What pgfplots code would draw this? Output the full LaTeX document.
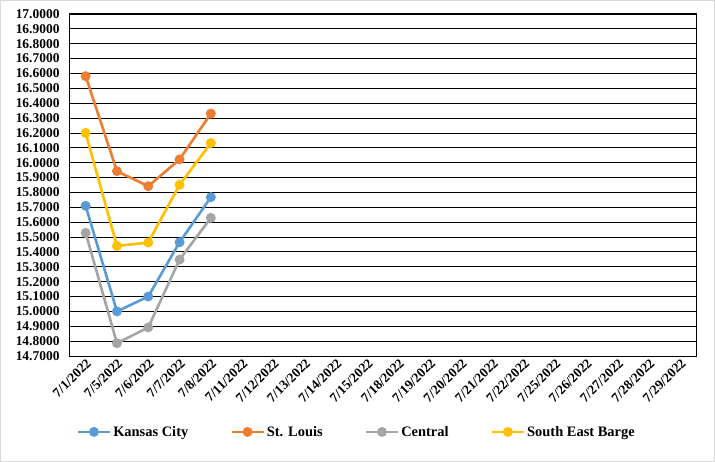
\documentclass[border=0pt]{standalone}
\usepackage{fontspec}
\setmainfont{Liberation Serif}
\usepackage{pgfplots}
\pgfplotsset{compat=1.18}
\definecolor{kc}{HTML}{5B9BD5}
\definecolor{stl}{HTML}{ED7D31}
\definecolor{cen}{HTML}{A5A5A5}
\definecolor{seb}{HTML}{FFC000}
\definecolor{frame}{HTML}{D9D9D9}
\begin{document}
\begin{tikzpicture}
\begin{axis}[
  scale only axis,
  width=626bp, height=342bp,
  xmin=-0.5, xmax=19.5,
  ymin=14.7, ymax=17.0,
  ytick={14.7,14.8,...,17.05},
  xtick={0,...,19},
  xticklabels={7/1/2022,7/5/2022,7/6/2022,7/7/2022,7/8/2022,7/11/2022,7/12/2022,7/13/2022,7/14/2022,7/15/2022,7/18/2022,7/19/2022,7/20/2022,7/21/2022,7/22/2022,7/25/2022,7/26/2022,7/27/2022,7/28/2022,7/29/2022},
  major tick length=0pt,
  ymajorgrids,
  major grid style={black, line width=0.9bp},
  axis line style={black, line width=1bp},
  /pgf/number format/assume math mode=true,
  /pgf/number format/fixed,
  /pgf/number format/precision=4,
  /pgf/number format/zerofill,
  /pgf/number format/1000 sep={},
  ticklabel style={font=\fontsize{13.5}{14}\selectfont\bfseries},
  yticklabel style={xshift=-7bp},
  xticklabel style={rotate=45, anchor=east, xshift=2bp, yshift=-6bp},
  every axis plot/.append style={line width=2.6bp, mark=*, mark size=3.6bp},
  legend columns=4,
  legend style={at={(0.458,-0.222)}, anchor=center, draw=none, fill=none,
    font=\fontsize{14.5}{16}\selectfont\bfseries,
    /tikz/every even column/.append style={column sep=40bp}},
  legend image code/.code={\draw[mark repeat=2, mark phase=2] plot coordinates {(0bp,0bp) (16bp,0bp) (32bp,0bp)};},
]
\addplot[color=kc] coordinates {(0,15.71) (1,15.00) (2,15.10) (3,15.465) (4,15.768)};
\addlegendentry{Kansas City}
\addplot[color=stl] coordinates {(0,16.582) (1,15.943) (2,15.842) (3,16.022) (4,16.330)};
\addlegendentry{St. Louis}
\addplot[color=cen] coordinates {(0,15.528) (1,14.786) (2,14.892) (3,15.348) (4,15.629)};
\addlegendentry{Central}
\addplot[color=seb] coordinates {(0,16.20) (1,15.44) (2,15.463) (3,15.851) (4,16.132)};
\addlegendentry{South East Barge}
\end{axis}
\draw[frame, line width=1bp] ([shift={(-69.5bp,-105.5bp)}]current axis.south west) rectangle ++(714bp,461bp);
\end{tikzpicture}
\end{document}
